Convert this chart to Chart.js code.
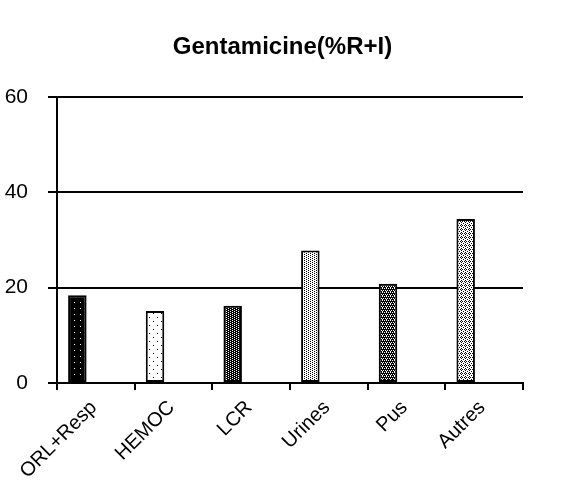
<!DOCTYPE html>
<html>
<head>
<meta charset="utf-8">
<script src="https://cdn.jsdelivr.net/npm/chart.js@4/dist/chart.umd.min.js"></script>
<style>
  body { margin: 0; background: #fff; }
</style>
</head>
<body>
<canvas id="chart" width="565" height="496"></canvas>
<script>
const categories = ["ORL+Resp", "HEMOC", "LCR", "Urines", "Pus", "Autres"];
const resistance = [18.4, 15.1, 16.2, 27.8, 20.8, 34.4];
const yTicks = [0, 20, 40, 60];

// small pixel tiles to imitate the old black and white fill patterns
function pattern(w, h, bg, fg, dots) {
    const tile = document.createElement('canvas');
    tile.width = w;
    tile.height = h;
    const c = tile.getContext('2d');
    c.fillStyle = bg;
    c.fillRect(0, 0, w, h);
    c.fillStyle = fg;
    dots.forEach(d => c.fillRect(d[0], d[1], 1, 1));
    return c.createPattern(tile, 'repeat');
}

const fills = [
    pattern(6, 6, '#000', '#fff', [[2, 2]]),
    pattern(8, 8, '#fff', '#000', [[1, 1], [5, 5]]),
    pattern(4, 2, '#000', '#fff', [[0, 0], [2, 1]]),
    pattern(4, 2, '#fff', '#000', [[0, 0], [2, 1]]),
    pattern(4, 4, '#000', '#fff', [[0, 0], [2, 0], [1, 2], [3, 2], [2, 3]]),
    pattern(4, 4, '#fff', '#000', [[1, 0], [0, 1], [2, 1], [1, 2], [3, 3]])
];

const font = 'Liberation Sans, Arial, sans-serif';

new Chart(document.getElementById('chart'), {
    type: 'bar',
    data: {
        labels: categories,
        datasets: [
            { data: resistance, backgroundColor: fills, borderColor: '#000', borderWidth: 2, borderSkipped: false },
            { data: [] },
            { data: [] }
        ]
    },
    options: {
        responsive: false,
        animation: false,
        layout: { padding: 0 },
        datasets: {
            bar: { categoryPercentage: 0.714, barPercentage: 1 }
        },
        plugins: {
            legend: { display: false },
            tooltip: { enabled: false },
            title: {
                display: true,
                text: 'Gentamicine(%R+I)',
                color: '#000',
                font: { family: font, size: 24, weight: 'bold' },
                padding: { top: 32.6, bottom: 35.6 }
            }
        },
        scales: {
            x: {
                grid: { drawOnChartArea: false, color: '#000', lineWidth: 2, tickLength: 7 },
                border: { color: '#000', width: 2 },
                ticks: {
                    color: '#000',
                    font: { family: font, size: 20 },
                    maxRotation: 45,
                    minRotation: 45,
                    autoSkip: false,
                    padding: 6,
                    labelOffset: -2
                },
                afterFit: s => { s.height = 113; }
            },
            y: {
                min: 0,
                max: 60,
                afterBuildTicks: s => { s.ticks = yTicks.map(v => ({ value: v })); },
                grid: { color: '#000', lineWidth: 2, tickLength: 9 },
                border: { color: '#000', width: 2 },
                ticks: {
                    color: '#000',
                    font: { family: font, size: 21 },
                    padding: 20
                },
                afterFit: s => { s.width = 57; }
            },
            // blank margin on the right so the title stays centred on the page
            spacer: {
                type: 'linear',
                position: 'right',
                display: true,
                grid: { display: false },
                border: { display: false },
                ticks: { display: false },
                afterFit: s => { s.width = 42; }
            }
        }
    }
});
</script>
</body>
</html>
